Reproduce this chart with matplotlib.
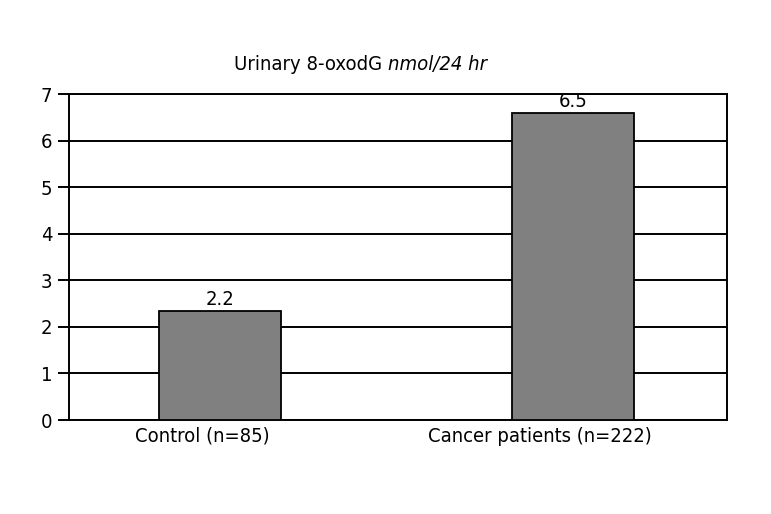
import matplotlib
matplotlib.use("Agg")
import matplotlib.pyplot as plt
import matplotlib.transforms as mtransforms
from matplotlib import font_manager

categories = ["Control (n=85)", "Cancer patients (n=222)"]
bar_heights = [2.35, 6.6]
bar_labels = ["2.2", "6.5"]
y_ticks = [0, 1, 2, 3, 4, 5, 6, 7]

names = {f.name for f in font_manager.fontManager.ttflist}
fam = "Liberation Sans Narrow" if "Liberation Sans Narrow" in names else "DejaVu Sans"
plt.rcParams["font.family"] = [fam, "DejaVu Sans"]
plt.rcParams["font.stretch"] = "condensed"
plt.rcParams["font.size"] = 14.5

fig = plt.figure(figsize=(7.71, 5.14), dpi=100)
ax = fig.add_axes([69 / 771, 1 - 420 / 514, 658 / 771, 326 / 514])

x = range(len(categories))
ax.bar(x, bar_heights, width=0.346, color="#808080", edgecolor="black", linewidth=1.3, zorder=3)
for xi, h, lab in zip(x, bar_heights, bar_labels):
    ax.annotate(lab, (xi, h), xytext=(0, 1), textcoords="offset points",
                ha="center", va="bottom", zorder=4)

ax.set_xlim(-0.428, 1.436)
ax.set_ylim(0, 7)
ax.set_yticks(y_ticks)
ax.yaxis.grid(True, color="black", linewidth=1.4, zorder=0)
ax.set_axisbelow(True)
ax.tick_params(axis="y", length=8, width=1.4, pad=4)
ax.set_xticks(list(x))
ax.set_xticklabels(categories)
ax.tick_params(axis="x", length=0, pad=5)
# category labels sit a bit left of the bars in the original
for t, dx in zip(ax.get_xticklabels(), [-18, -33]):
    t.set_transform(t.get_transform() + mtransforms.ScaledTranslation(dx / 100, 0, fig.dpi_scale_trans))
for s in ax.spines.values():
    s.set_linewidth(1.4)

fig.text(388 / 771, 1 - 65 / 514, "Urinary 8-oxodG ", ha="right", va="center")
fig.text(388 / 771, 1 - 65 / 514, "nmol/24 hr", ha="left", va="center", style="italic")

fig.savefig("out.png", dpi=100)
